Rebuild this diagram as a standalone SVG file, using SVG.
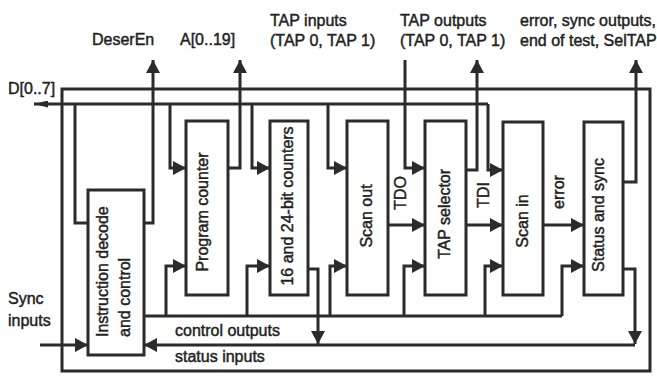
<svg xmlns="http://www.w3.org/2000/svg" width="657" height="377" viewBox="0 0 657 377">
<defs>
<style>
.box{fill:#fff;stroke:#2b2b2b;stroke-width:3}
.ln{fill:none;stroke:#2b2b2b;stroke-width:3;stroke-linejoin:miter}
.ar{marker-end:url(#ah)}
text{font-family:"Liberation Sans",Arial,Helvetica,sans-serif;font-size:16px;fill:#222;stroke:#222;stroke-width:0.45}
.m{text-anchor:middle}
</style>
<marker id="ah" markerUnits="userSpaceOnUse" markerWidth="13" markerHeight="14" refX="13" refY="7" orient="auto">
<path d="M0,0 L13,7 L0,14 Z" fill="#2b2b2b"/>
</marker>
<marker id="ahs" markerUnits="userSpaceOnUse" markerWidth="14" markerHeight="7" refX="14" refY="3.5" orient="auto">
<path d="M0,0 L14,3.5 L0,7 Z" fill="#2b2b2b"/>
</marker>
</defs>
<rect width="657" height="377" fill="#fff"/>

<g id="connectors">
<path class="ln" d="M62,89 H650 V371 H62 Z"/>
<path class="ln" d="M488,104 H34" marker-end="url(#ahs)"/>
<path class="ln" d="M75,104 V223 H88"/>
<path class="ln ar" d="M170,104 V168 H186"/>
<path class="ln ar" d="M252,104 V168 H270"/>
<path class="ln ar" d="M328,104 V168 H347"/>
<path class="ln ar" d="M488,104 V170 H503"/>
<path class="ln ar" d="M405,60 V168 H425"/>
<path class="ln ar" d="M144,223 H153 V60"/>
<path class="ln ar" d="M228,168 H240 V60"/>
<path class="ln ar" d="M466,170 H477 V60"/>
<path class="ln ar" d="M623,182 H636 V60"/>
<path class="ln ar" d="M388,225 H425"/>
<path class="ln ar" d="M466,225 H503"/>
<path class="ln ar" d="M543,225 H584"/>
<path class="ln" d="M144,316 H562"/>
<path class="ln ar" d="M166,316 V266 H186"/>
<path class="ln ar" d="M247,316 V266 H270"/>
<path class="ln ar" d="M330,316 V266 H347"/>
<path class="ln ar" d="M404,316 V266 H425"/>
<path class="ln ar" d="M485,316 V266 H503"/>
<path class="ln ar" d="M562,316 V266 H584"/>
<path class="ln ar" d="M635,345 H144"/>
<path class="ln ar" d="M308,269 H318 V344"/>
<path class="ln ar" d="M623,269 H635 V344"/>
<path class="ln ar" d="M40,345 H88"/>
</g>

<g id="instruction-decode">
<rect class="box" x="88" y="190" width="56" height="165"/>
<text transform="translate(108,337) rotate(-90)">Instruction decode</text>
<text transform="translate(130,337) rotate(-90)">and control</text>
</g>
<g id="program-counter">
<rect class="box" x="186" y="121" width="42" height="174"/>
<text class="m" transform="translate(208,212) rotate(-90)">Program counter</text>
</g>
<g id="counters">
<rect class="box" x="270" y="121" width="38" height="174"/>
<text class="m" transform="translate(293,206) rotate(-90)">16 and 24-bit counters</text>
</g>
<g id="scan-out">
<rect class="box" x="347" y="121" width="41" height="174"/>
<text class="m" transform="translate(372,216) rotate(-90)">Scan out</text>
</g>
<g id="tap-selector">
<rect class="box" x="425" y="121" width="41" height="174"/>
<text class="m" transform="translate(450,214) rotate(-90)">TAP selector</text>
</g>
<g id="scan-in">
<rect class="box" x="503" y="122" width="40" height="173"/>
<text class="m" transform="translate(528,221) rotate(-90)">Scan in</text>
</g>
<g id="status-sync">
<rect class="box" x="584" y="122" width="39" height="173"/>
<text class="m" transform="translate(604,215) rotate(-90)">Status and sync</text>
</g>

<g id="labels">
<text class="m" transform="translate(406,193) rotate(-90)">TDO</text>
<text class="m" transform="translate(489,195) rotate(-90)">TDI</text>
<text class="m" transform="translate(564,192) rotate(-90)">error</text>
<text x="8" y="94">D[0..7]</text>
<text x="92" y="45">DeserEn</text>
<text x="180" y="45">A[0..19]</text>
<text x="270" y="26">TAP inputs</text>
<text x="270" y="46">(TAP 0, TAP 1)</text>
<text x="400" y="26">TAP outputs</text>
<text x="400" y="46">(TAP 0, TAP 1)</text>
<text x="520" y="26" textLength="136" lengthAdjust="spacingAndGlyphs">error, sync outputs,</text>
<text x="520" y="46">end of test, SelTAP</text>
<text x="8" y="304">Sync</text>
<text x="8" y="326">inputs</text>
<text x="175" y="336">control outputs</text>
<text x="175" y="362">status inputs</text>
</g>
</svg>
